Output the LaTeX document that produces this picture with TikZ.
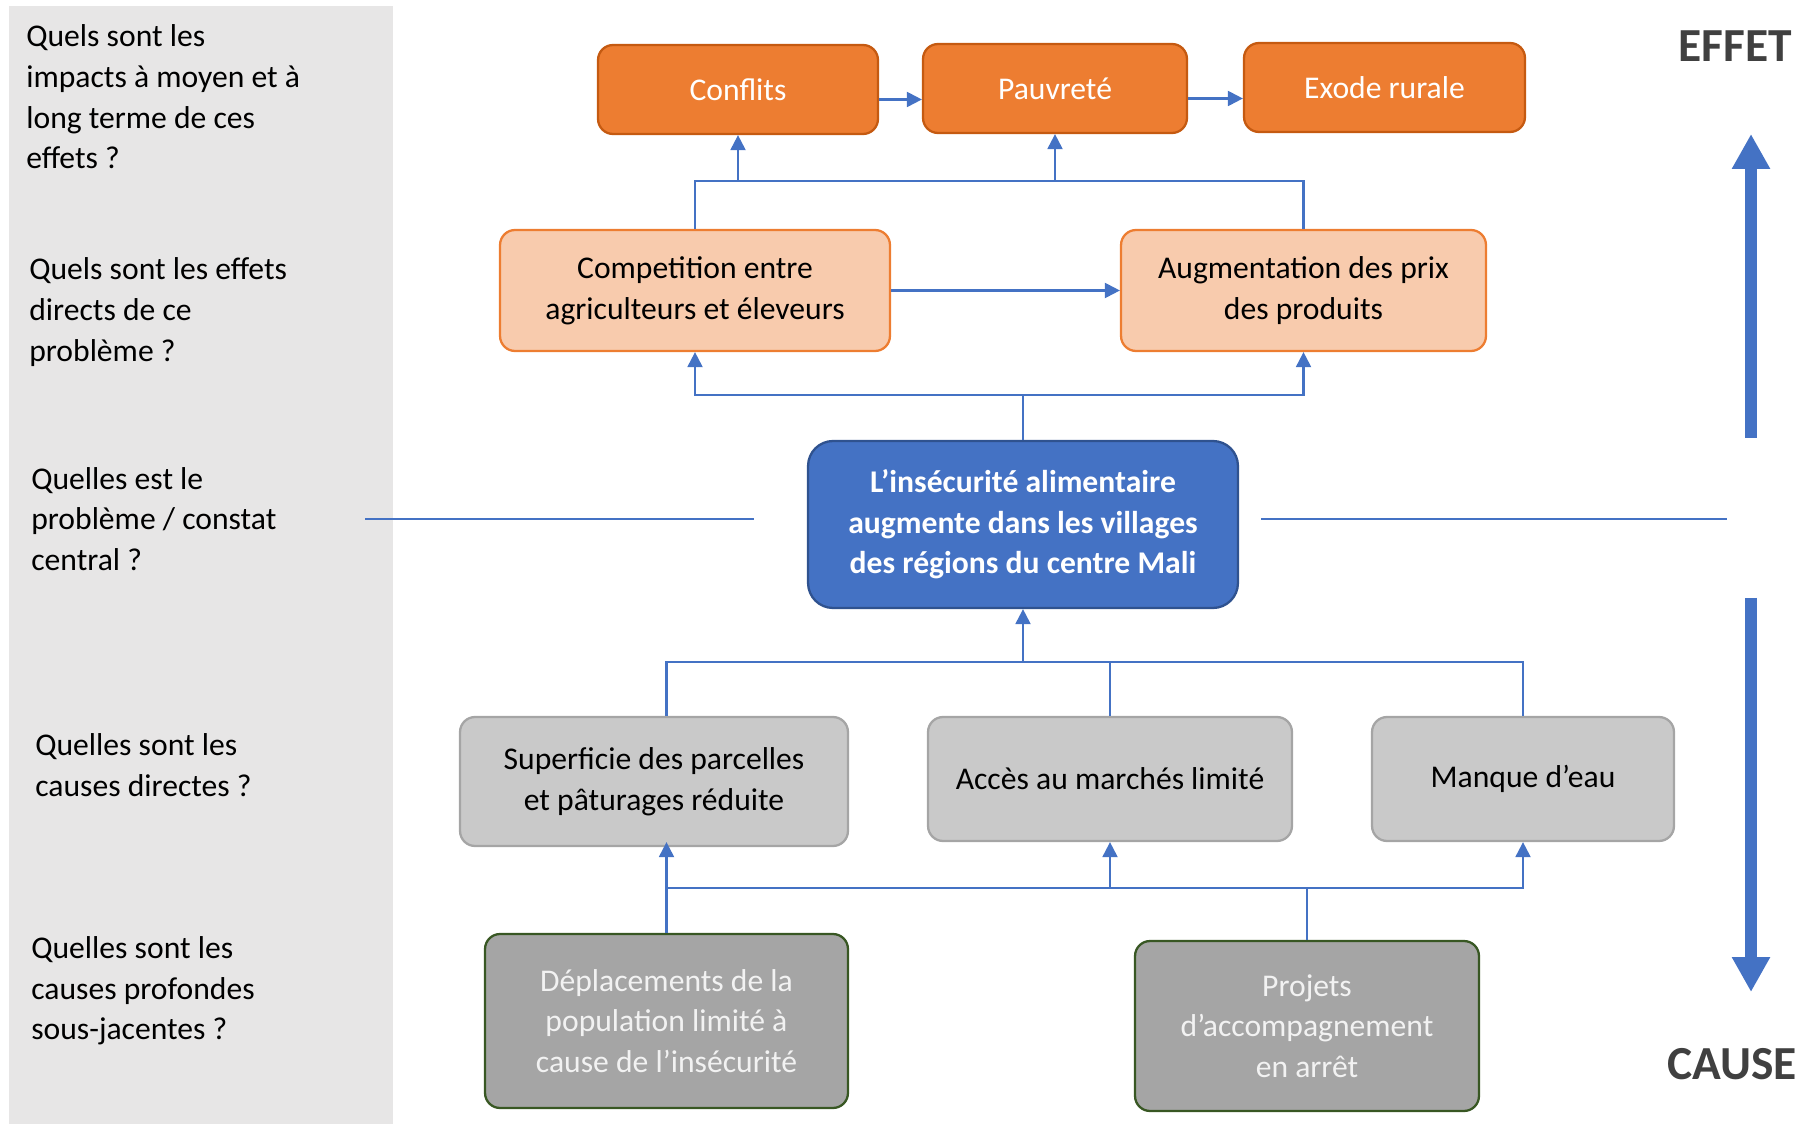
\documentclass[tikz,border=0pt]{standalone}
\usepackage{fontspec}
\setmainfont{Carlito}
\usepackage{tikz}
\usetikzlibrary{arrows.meta,positioning}
\usepackage{xcolor}

\definecolor{impactfill}{HTML}{ED7D31}
\definecolor{impactdraw}{HTML}{C55A11}
\definecolor{effectfill}{HTML}{F8CBAD}
\definecolor{corefill}{HTML}{4472C4}
\definecolor{coredraw}{HTML}{2F528F}
\definecolor{causefill}{HTML}{C9C9C9}
\definecolor{causedraw}{HTML}{A5A5A5}
\definecolor{rootfill}{HTML}{A5A5A5}
\definecolor{rootdraw}{HTML}{385723}
\definecolor{panelgray}{HTML}{E7E6E6}
\definecolor{linkblue}{HTML}{4472C4}
\definecolor{titlegray}{HTML}{404040}

\begin{document}
\begin{tikzpicture}[x=0.02cm,y=-0.02cm,
		box/.style={rounded corners=0.3cm, line width=1.3pt, align=center, inner sep=0pt,
			font=\fontsize{18}{23.1}\selectfont},
		impact/.style={box, fill=impactfill, draw=impactdraw, text=white},
		effect/.style={box, fill=effectfill, draw=impactfill},
		core/.style={box, rounded corners=0.5cm, fill=corefill, draw=coredraw, text=white,
			font=\bfseries\fontsize{18}{23.1}\selectfont},
		cause/.style={box, fill=causefill, draw=causedraw},
		root/.style={box, fill=rootfill, draw=rootdraw, text=white!95!black},
		link/.style={draw=linkblue, line width=1.2pt},
		arr/.style={link, -{Triangle[length=8.5pt,width=8.5pt]}},
		guide/.style={draw=linkblue, line width=0.6pt},
		bigarrow/.style={draw=linkblue, line width=6.8pt, -{Triangle[length=0.7cm,width=0.72cm]}},
		question/.style={anchor=west, align=left, inner sep=0pt, font=\fontsize{18}{23.1}\selectfont},
		sidetitle/.style={text=titlegray, font=\bfseries\fontsize{27}{30}\selectfont}]
	\useasboundingbox (0,0) rectangle (1818,1124);

	% Left panel with the questions
	\fill[panelgray] (9,6) rectangle (393,1124);
	\node[question] (q1) at (26,97)  {Quels sont les\\impacts à moyen et à\\long terme de ces\\effets ?};
	\node[question] (q2) at (29,312) {Quels sont les effets\\directs de ce\\problème ?};
	\node[question] (q3) at (31,519) {Quelles est le\\problème / constat\\central ?};
	\node[question] (q4) at (35,765) {Quelles sont les\\causes directes ?};
	\node[question] (q5) at (31,991) {Quelles sont les\\causes profondes\\sous-jacentes ?};

	% Guide lines beside the central problem
	\draw[guide] (365,519) -- (754,519);
	\draw[guide] (1261,519) -- (1727,519);

	% Impacts
	\node[impact, minimum width=5.6cm,  minimum height=1.78cm] (conflits) at (738,89.5)   {Conflits};
	\node[impact, minimum width=5.28cm, minimum height=1.78cm] (pauvrete) at (1055,88.5)  {Pauvreté};
	\node[impact, minimum width=5.62cm, minimum height=1.78cm] (exode)    at (1384.5,87.5) {Exode rurale};

	% Direct effects
	\node[effect, minimum width=7.8cm, minimum height=2.42cm] (competition) at (695,290.5)
		{Competition entre\\agriculteurs et éleveurs};
	\node[effect, minimum width=7.3cm, minimum height=2.42cm] (augmentation) at (1303.5,290.5)
		{Augmentation des prix\\des produits};

	% Central problem
	\node[core, minimum width=8.6cm, minimum height=3.34cm] (central) at (1023,524.5)
		{L’insécurité alimentaire\\augmente dans les villages\\des régions du centre Mali};

	% Direct causes
	\node[cause, minimum width=7.76cm, minimum height=2.58cm] (superficie) at (654,781.5)
		{Superficie des parcelles\\et pâturages réduite};
	\node[cause, minimum width=7.28cm, minimum height=2.48cm] (acces) at (1110,779)
		{Accès au marchés limité};
	\node[cause, minimum width=6.04cm, minimum height=2.48cm] (manque) at (1523,779)
		{Manque d’eau};

	% Root causes
	\node[root, minimum width=7.26cm, minimum height=3.48cm] (deplacements) at (666.5,1021)
		{Déplacements de la\\population limité à\\cause de l’insécurité};
	\node[root, minimum width=6.88cm, minimum height=3.4cm] (projets) at (1307,1026)
		{Projets\\d’accompagnement\\en arrêt};

	% Bus heights
	\coordinate (busA) at (0,181);
	\coordinate (busB) at (0,395);
	\coordinate (busC) at (0,662);
	\coordinate (busD) at (0,888);

	% Links between impacts
	\draw[arr] ([yshift=-0.2cm]conflits.east) -- ([yshift=-0.2cm]conflits.east -| pauvrete.west);
	\draw[arr] ([yshift=-0.2cm]pauvrete.east) -- ([yshift=-0.2cm]pauvrete.east -| exode.west);

	% Effects towards impacts
	\draw[link] (competition.north) |- (busA -| augmentation.north) -- (augmentation.north);
	\draw[arr] (busA -| conflits.south) -- (conflits.south);
	\draw[arr] (busA -| pauvrete.south) -- (pauvrete.south);
	\draw[arr] (competition.east) -- (augmentation.west);

	% Central problem towards effects
	\draw[link] (central.north) -- (busB -| central.north);
	\draw[arr] (busB -| central.north) -| (competition.south);
	\draw[arr] (busB -| central.north) -| (augmentation.south);

	% Direct causes towards central problem
	\draw[link] (superficie.north -| deplacements.north) |- (busC -| manque.north) -- (manque.north);
	\draw[link] (acces.north) -- (busC -| acces.north);
	\draw[arr] (busC -| central.south) -- (central.south);

	% Root causes towards direct causes
	\draw[arr] (deplacements.north) -- ([yshift=0.1cm]superficie.south -| deplacements.north);
	\draw[arr] (busD -| deplacements.north) -| (manque.south);
	\draw[arr] (busD -| acces.south) -- (acces.south);
	\draw[link] (projets.north) -- (busD -| projets.north);

	% Effect / cause direction
	\draw[bigarrow] (1751,438) -- (1751,134);
	\draw[bigarrow] (1751,598) -- (1751,992);
	\node[sidetitle] (effet) at (1735,46)  {EFFET};
	\node[sidetitle] (cause) at (1732,1064) {CAUSE};
\end{tikzpicture}
\end{document}
